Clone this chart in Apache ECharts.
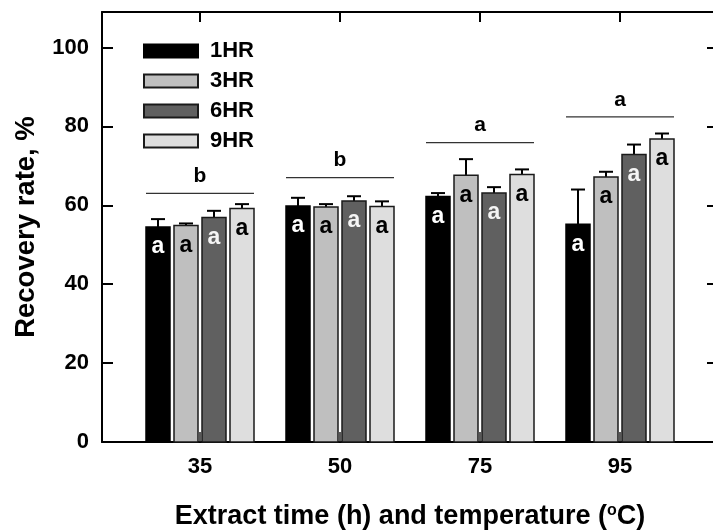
<!DOCTYPE html>
<html>
<head>
<meta charset="utf-8">
<script src="https://cdn.jsdelivr.net/npm/echarts@6/dist/echarts.min.js"></script>
<style>
  html, body { margin: 0; padding: 0; background: #fff; }
  #chart { width: 713px; height: 531px; }
</style>
</head>
<body>
<div id="chart"></div>
<script>
// Extraction temperatures (x categories) and extraction times (series)
const categories = ['35', '50', '75', '95'];
const seriesNames = ['1HR', '3HR', '6HR', '9HR'];

// Mean recovery rate (%) per temperature
const hr1 = [54.5, 59.8, 62.2, 55.2];
const hr3 = [54.9, 59.6, 67.6, 67.2];
const hr6 = [56.9, 61.1, 63.1, 72.9];
const hr9 = [59.2, 59.7, 67.8, 76.8];

// Upper error (standard deviation) per temperature
const hr1Err = [2.0, 2.1, 0.9, 8.8];
const hr3Err = [0.5, 0.7, 4.1, 1.3];
const hr6Err = [1.7, 1.2, 1.5, 2.5];
const hr9Err = [1.1, 1.3, 1.3, 1.4];

// Significance letters inside each bar
const hr1Letters = ['a', 'a', 'a', 'a'];
const hr3Letters = ['a', 'a', 'a', 'a'];
const hr6Letters = ['a', 'a', 'a', 'a'];
const hr9Letters = ['a', 'a', 'a', 'a'];

// Group-level significance (letter above a bracket line at the given level)
const groupLetters = ['b', 'b', 'a', 'a'];
const groupLineLevels = [63.0, 67.0, 75.9, 82.4];

// Axis ticks
const yTicks = [0, 20, 40, 60, 80, 100];
const xTicks = [1, 2, 3, 4];

const values = [hr1, hr3, hr6, hr9];
const errors = [hr1Err, hr3Err, hr6Err, hr9Err];
const letters = [hr1Letters, hr3Letters, hr6Letters, hr9Letters];

const FONT = '"Liberation Sans", Arial, Helvetica, sans-serif';
const fills = ['#000000', '#bfbfbf', '#606060', '#dedede'];
const letterColors = ['#ffffff', '#000000', '#f4f4f4', '#000000'];
const BAR_W = 24;
const BAR_PITCH = 28;

function barSeries(k) {
  return {
    name: seriesNames[k],
    type: 'custom',
    xAxisIndex: 0,
    yAxisIndex: 0,
    itemStyle: { color: fills[k], borderColor: k === 0 ? '#000' : '#1a1a1a', borderWidth: 1.5 },
    data: values[k].map((v, i) => [xTicks[i], v, v + errors[k][i]]),
    encode: { x: 0, y: [1, 2] },
    renderItem: function (params, api) {
      const xv = api.value(0);
      const base = api.coord([xv, 0]);
      const top = api.coord([xv, api.value(1)]);
      const errTop = api.coord([xv, api.value(2)]);
      const cx = base[0] + (k - 1.5) * BAR_PITCH;
      return {
        type: 'group',
        children: [
          {
            type: 'line',
            shape: { x1: cx, y1: top[1], x2: cx, y2: errTop[1] },
            style: { stroke: '#000', lineWidth: 2 }
          },
          {
            type: 'line',
            shape: { x1: cx - 7, y1: errTop[1], x2: cx + 7, y2: errTop[1] },
            style: { stroke: '#000', lineWidth: 2 }
          },
          {
            type: 'rect',
            shape: { x: cx - BAR_W / 2, y: top[1], width: BAR_W, height: base[1] - top[1] },
            style: {
              fill: fills[k],
              stroke: k === 0 ? '#000' : '#1a1a1a',
              lineWidth: 1.5
            }
          },
          {
            type: 'text',
            x: cx,
            y: top[1] + 20,
            style: {
              text: letters[k][params.dataIndex],
              fill: letterColors[k],
              font: 'bold 23px ' + FONT,
              align: 'center',
              verticalAlign: 'middle'
            }
          }
        ]
      };
    }
  };
}

const groupSeries = {
  type: 'custom',
  xAxisIndex: 0,
  yAxisIndex: 0,
  silent: true,
  data: groupLineLevels.map((lv, i) => [xTicks[i], lv]),
  encode: { x: 0, y: 1 },
  renderItem: function (params, api) {
    const p = api.coord([api.value(0), api.value(1)]);
    const half = 2 * BAR_PITCH - (BAR_PITCH - BAR_W) / 2;
    return {
      type: 'group',
      children: [
        {
          type: 'line',
          shape: { x1: p[0] - half, y1: p[1], x2: p[0] + half, y2: p[1] },
          style: { stroke: '#333', lineWidth: 1.2 }
        },
        {
          type: 'text',
          x: p[0],
          y: p[1] - 17,
          style: {
            text: groupLetters[params.dataIndex],
            fill: '#000',
            font: 'bold 21px ' + FONT,
            align: 'center',
            verticalAlign: 'middle'
          }
        }
      ]
    };
  }
};

const boldText = { fontFamily: FONT, fontWeight: 'bold', color: '#000' };
const frameLine = { show: true, onZero: false, lineStyle: { color: '#000', width: 2 } };

const option = {
  animation: false,
  backgroundColor: '#fff',
  grid: { left: 102, top: 12, width: 616, height: 430, containLabel: false, outerBoundsMode: 'none' },
  legend: {
    data: seriesNames,
    orient: 'vertical',
    left: 143,
    top: 40,
    padding: 0,
    icon: 'rect',
    itemWidth: 54,
    itemHeight: 13,
    itemGap: 8,
    selectedMode: false,
    textStyle: Object.assign({ fontSize: 22, lineHeight: 22, padding: [0, 0, 0, 7] }, boldText)
  },
  xAxis: [
    {
      type: 'value',
      position: 'bottom',
      min: 0.3,
      max: 4.7,
      axisLine: frameLine,
      splitLine: { show: false },
      axisTick: { show: true, inside: true, length: 10, customValues: xTicks, lineStyle: { color: '#222', width: 1.5 } },
      axisLabel: Object.assign({
        customValues: xTicks,
        formatter: function (v) { return categories[Math.round(v) - 1]; },
        fontSize: 22,
        margin: 14
      }, boldText),
      name: 'Extract time (h) and temperature ({sup|o}C)',
      nameLocation: 'middle',
      nameGap: 61,
      nameTextStyle: Object.assign({
        fontSize: 27,
        rich: {
          sup: { fontFamily: FONT, fontWeight: 'bold', fontSize: 16, color: '#000', verticalAlign: 'top', padding: [0, 0, 10, 0] }
        }
      }, boldText)
    },
    {
      type: 'value',
      position: 'top',
      min: 0.3,
      max: 4.7,
      axisLine: frameLine,
      splitLine: { show: false },
      axisTick: { show: true, inside: true, length: 10, customValues: xTicks, lineStyle: { color: '#000', width: 2 } },
      axisLabel: { show: false }
    }
  ],
  yAxis: [
    {
      type: 'value',
      position: 'left',
      min: 0,
      max: 109,
      axisLine: frameLine,
      splitLine: { show: false },
      axisTick: { show: true, inside: true, length: 11, customValues: yTicks, lineStyle: { color: '#000', width: 2 } },
      axisLabel: Object.assign({ customValues: yTicks, fontSize: 22, margin: 13 }, boldText),
      name: 'Recovery rate, %',
      nameLocation: 'middle',
      nameGap: 62,
      nameTextStyle: Object.assign({ fontSize: 27.5, padding: [0, 0, 0, 0] }, boldText)
    },
    {
      type: 'value',
      position: 'right',
      min: 0,
      max: 109,
      axisLine: frameLine,
      splitLine: { show: false },
      axisTick: { show: true, inside: true, length: 11, customValues: yTicks, lineStyle: { color: '#000', width: 2 } },
      axisLabel: { show: false }
    }
  ],
  series: [barSeries(0), barSeries(1), barSeries(2), barSeries(3), groupSeries]
};

const chart = echarts.init(document.getElementById('chart'), null, { renderer: 'canvas' });
chart.setOption(option);
</script>
</body>
</html>
